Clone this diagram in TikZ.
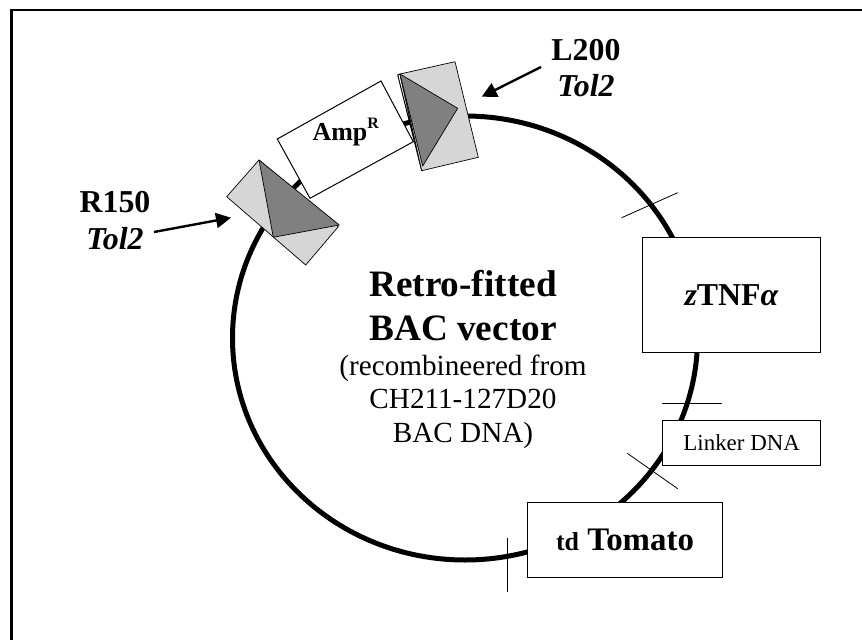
\documentclass[tikz,border=0pt]{standalone}
\usepackage{fontspec}
\setmainfont{Liberation Serif}
\usetikzlibrary{arrows.meta}

\begin{document}
\begin{tikzpicture}[
    x=1bp,
    y=-1bp,
    frame/.style={
        draw=black,
        line width=2.4bp
    },
    backbone/.style={
        draw=black,
        line width=5bp
    },
    tick/.style={
        draw=black,
        line width=0.8pt
    },
    pointer/.style={
        draw=black,
        line width=2.4bp,
        -{Triangle[length=15bp,width=15bp]}
    },
    insert/.style={
        draw=black,
        fill=white,
        line width=1pt,
        inner sep=0pt,
        anchor=north west
    },
    armbox/.style={
        draw=black,
        fill=black!16,
        line width=0.7pt,
        line join=round
    },
    armtip/.style={
        draw=black,
        fill=black!50,
        line width=0.7pt,
        line join=round
    },
    title/.style={
        font=\fontsize{37.4}{37.4}\selectfont\bfseries,
        inner sep=0pt,
        anchor=base
    },
    subtitle/.style={
        font=\fontsize{29.3}{29.3}\selectfont,
        inner sep=0pt,
        anchor=base
    },
    armname/.style={
        font=\fontsize{32}{32}\selectfont\bfseries,
        inner sep=0pt,
        anchor=base
    },
    armkind/.style={
        font=\fontsize{32}{32}\selectfont\bfseries\itshape,
        inner sep=0pt,
        anchor=base
    }
]

\useasboundingbox (0,0) rectangle (862,640);

% =====================================================
% Frame and backbone
% =====================================================

\draw[frame] (11.5,640) -- (11.5,10) -- (862,10);

\draw[backbone] (465,338) ellipse [x radius=232.5, y radius=222];

% =====================================================
% Restriction ticks
% =====================================================

\coordinate (T1a) at (621.7,217.7);
\coordinate (T1b) at (677.7,192.7);
\coordinate (T2a) at (662.3,403.3);
\coordinate (T2b) at (721.7,403.3);
\coordinate (T3a) at (627.3,453.3);
\coordinate (T3b) at (677.7,488.7);
\coordinate (T4a) at (507.7,538.3);
\coordinate (T4b) at (507.7,592.3);

\draw[tick] (T1a) -- (T1b);
\draw[tick] (T2a) -- (T2b);
\draw[tick] (T3a) -- (T3b);
\draw[tick] (T4a) -- (T4b);

% =====================================================
% Inserts
% =====================================================

\node[insert, minimum width=177.7bp, minimum height=114.4bp,
      font=\fontsize{32}{32}\selectfont\bfseries]
    (TNF) at (642.3,237.3) {\textit{z}TNF\textit{α}};

\node[insert, minimum width=157.7bp, minimum height=45bp,
      font=\fontsize{23}{23}\selectfont]
    (Linker) at (662.3,420) {Linker DNA};

\node[insert, minimum width=194.4bp, minimum height=75bp,
      font=\fontsize{33}{33}\selectfont\bfseries]
    (Tomato) at (527.3,501.7) {{\fontsize{26}{26}\selectfont td} Tomato};

% =====================================================
% Resistance cassette
% =====================================================

\coordinate (A1) at (381,81);
\coordinate (A2) at (277.3,139);
\coordinate (A3) at (310,198.3);
\coordinate (A4) at (413.3,141.7);

\draw[insert] (A1) -- (A2) -- (A3) -- (A4) -- cycle;
\node[font=\fontsize{26}{26}\selectfont\bfseries, inner sep=0pt, anchor=base]
    (Amp) at (345.8,140.7) {Amp\raisebox{11.7bp}{\fontsize{16}{16}\selectfont R}};

% =====================================================
% Tol2 arms
% =====================================================

\coordinate (L1) at (400,74);
\coordinate (L2) at (455,61.7);
\coordinate (L3) at (478.3,157.3);
\coordinate (L4) at (421.7,170.7);
\coordinate (L0a) at (397.7,75);
\coordinate (L0b) at (420.7,166.7);
\coordinate (L5) at (457.7,108.3);
\coordinate (L6) at (422.7,166);

\draw[insert] (L0a) -- (L1) -- (L4) -- (L0b) -- cycle;
\draw[armbox] (L1) -- (L2) -- (L3) -- (L4) -- cycle;
\draw[armtip] (L1) -- (L5) -- (L6) -- cycle;

\coordinate (R1) at (259,160);
\coordinate (R2) at (226.7,196.7);
\coordinate (R3) at (305.7,265);
\coordinate (R4) at (338.3,226.7);
\coordinate (R5) at (339.3,225);
\coordinate (R6) at (273.3,237.3);

\draw[armbox] (R1) -- (R2) -- (R3) -- (R4) -- cycle;
\draw[armtip] (R1) -- (R5) -- (R6) -- cycle;

% =====================================================
% Labels
% =====================================================

\node[armname] (L200) at (586,61) {L200};
\node[armkind] (LTol) at (586,97) {Tol2};
\node[armname] (R150) at (115,212.7) {R150};
\node[armkind] (RTol) at (115,250) {Tol2};

\coordinate (LS) at (541,67);
\coordinate (LE) at (481.7,96.7);
\coordinate (RS) at (154,232);
\coordinate (RE) at (231,217.7);

\draw[pointer] (LS) -- (LE);
\draw[pointer] (RS) -- (RE);

\node[title] (Retro) at (463,296.7) {Retro-fitted};
\node[title] (BAC) at (463,340) {BAC vector};
\node[subtitle] (Recomb) at (463,375.7) {(recombineered from};
\node[subtitle] (Clone) at (463,408) {CH211-127D20};
\node[subtitle] (DNA) at (463,442) {BAC DNA)};

\end{tikzpicture}
\end{document}
